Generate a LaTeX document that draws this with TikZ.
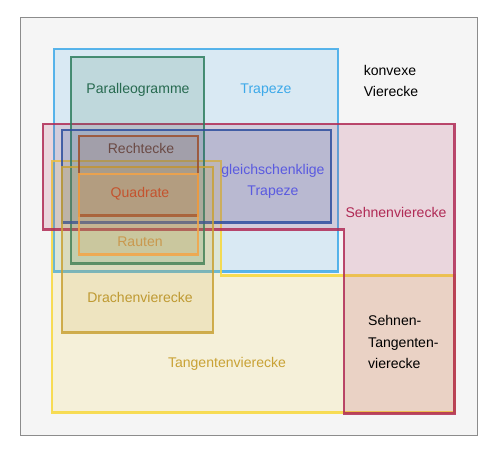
\documentclass[tikz,border=0pt]{standalone}
\usepackage{fontspec}
\setmainfont{Liberation Sans}
\usepackage{tikz}

\definecolor{trapezblue}{HTML}{3DA9E9}
\definecolor{parallelgreen}{HTML}{2E7D5E}
\definecolor{sehnenred}{HTML}{B02A55}
\definecolor{gleichblue}{HTML}{2D4D9E}
\definecolor{rechteckbrown}{HTML}{9C4E2C}
\definecolor{rautenorange}{HTML}{F5A445}
\definecolor{drachengold}{HTML}{C9A235}
\definecolor{tangentyellow}{HTML}{F8D83A}
\definecolor{gleichtext}{HTML}{5A5AE0}
\definecolor{rechtecktext}{HTML}{6B4A45}
\definecolor{quadrattext}{HTML}{C4532E}
\definecolor{rautentext}{HTML}{C9994F}

\begin{document}
\begin{tikzpicture}[x=0.02cm, y=-0.02cm,
    venn/.style={line width=1.7pt, fill opacity=0.15, draw opacity=0.85},
    settext/.style={font=\fontsize{8}{12}\selectfont, align=center}
]
\useasboundingbox (0,0) rectangle (500,457);
\draw[gray!90, fill=gray!8] (20,17) rectangle (477,435);

\draw[venn, draw=trapezblue, fill=trapezblue] (54,49) rectangle (338,271);
\draw[venn, draw=tangentyellow, fill=tangentyellow] (52,161) -- (221,161) -- (221,275) -- (454,275) -- (454,412) -- (52,412) -- cycle;
\draw[venn, draw=sehnenred, fill=sehnenred] (43,124) -- (454,124) -- (454,413) -- (344,413) -- (344,229) -- (43,229) -- cycle;
\draw[venn, draw=parallelgreen, fill=parallelgreen] (71,57) rectangle (204,263);
\draw[venn, draw=gleichblue, fill=gleichblue] (62,130) rectangle (331,222);
\draw[venn, draw=drachengold, fill=drachengold] (62,167) rectangle (213,332);
\draw[venn, draw=rechteckbrown, fill=rechteckbrown] (79,136) rectangle (198,215);
\draw[venn, draw=rautenorange, fill=rautenorange] (79,174) rectangle (198,254);

\node[settext, text=parallelgreen!85!black] at (138,90) (parallel) {Paralleogramme};
\node[settext, text=trapezblue] at (266,90) (trapez) {Trapeze};
\node[settext, align=left] at (391,81) (konvex) {konvexe\\Vierecke};
\node[settext, text=rechtecktext] at (141,148) (rechteck) {Rechtecke};
\node[settext, text=gleichtext] at (273,181) (gleich) {gleichschenklige\\Trapeze};
\node[settext, text=quadrattext] at (140,194) (quadrat) {Quadrate};
\node[settext, text=sehnenred] at (396,212) (sehnen) {Sehnenvierecke};
\node[settext, text=rautentext] at (140,242) (rauten) {Rauten};
\node[settext, text=drachengold!95!black] at (140,297) (drachen) {Drachenvierecke};
\node[settext, text=drachengold] at (227,364) (tangent) {Tangentenvierecke};
\node[settext, align=left, anchor=west] at (362,342) (sehnentangent) {Sehnen-\\Tangenten-\\vierecke};
\end{tikzpicture}
\end{document}
